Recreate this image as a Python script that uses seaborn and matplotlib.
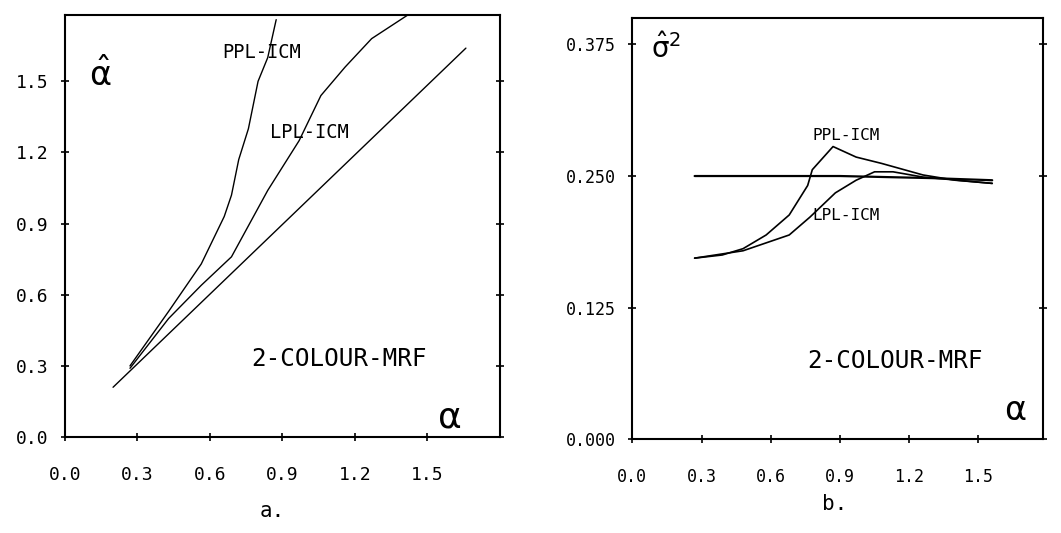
import matplotlib
matplotlib.use("Agg")
import matplotlib.pyplot as plt
import seaborn as sns
import pandas as pd

# panel a: estimated alpha vs true alpha
ident_x = [0.20, 1.66]
ident_y = [0.21, 1.64]
ppl_a_x = [0.27, 0.43, 0.565, 0.66, 0.69, 0.72, 0.76, 0.80, 0.84, 0.875]
ppl_a_y = [0.30, 0.53, 0.73, 0.93, 1.02, 1.17, 1.30, 1.50, 1.60, 1.76]
lpl_a_x = [0.27, 0.43, 0.565, 0.69, 0.84, 0.97, 1.06, 1.16, 1.27, 1.42]
lpl_a_y = [0.29, 0.50, 0.64, 0.76, 1.04, 1.25, 1.44, 1.56, 1.68, 1.78]

# panel b: estimated sigma^2 vs true alpha
true_x = [0.27, 0.90, 1.30, 1.56]
true_y = [0.250, 0.250, 0.248, 0.246]
ppl_b_x = [0.27, 0.39, 0.48, 0.58, 0.68, 0.76, 0.78, 0.87, 0.97, 1.08, 1.26, 1.40, 1.56]
ppl_b_y = [0.172, 0.175, 0.181, 0.194, 0.213, 0.241, 0.256, 0.278, 0.268, 0.262, 0.251, 0.246, 0.243]
lpl_b_x = [0.27, 0.48, 0.68, 0.77, 0.88, 0.97, 1.05, 1.13, 1.26, 1.56]
lpl_b_y = [0.172, 0.179, 0.194, 0.211, 0.234, 0.246, 0.254, 0.254, 0.249, 0.243]

xticks = [0.0, 0.3, 0.6, 0.9, 1.2, 1.5]
yticks_a = [0.0, 0.3, 0.6, 0.9, 1.2, 1.5]
yticks_b = [0.000, 0.125, 0.250, 0.375]

sns.set_style("white")
plt.rcParams['font.family'] = ['DejaVu Sans Mono', 'DejaVu Sans']
plt.rcParams['mathtext.fontset'] = 'dejavusans'
plt.rcParams['mathtext.default'] = 'rm'
plt.rcParams['text.color'] = 'black'
plt.rcParams['xtick.color'] = 'black'
plt.rcParams['ytick.color'] = 'black'

fig = plt.figure(figsize=(10.61, 5.33), dpi=100)
ax1 = fig.add_axes([0.061, 0.180, 0.410, 0.792])
ax2 = fig.add_axes([0.596, 0.176, 0.387, 0.790])


def draw(ax, x, y, lw):
    df = pd.DataFrame({'x': x, 'y': y})
    sns.lineplot(data=df, x='x', y='y', ax=ax, color='black', linewidth=lw,
                 sort=False, estimator=None)


draw(ax1, ident_x, ident_y, 1.0)
draw(ax1, ppl_a_x, ppl_a_y, 1.0)
draw(ax1, lpl_a_x, lpl_a_y, 1.0)

draw(ax2, true_x, true_y, 1.6)
draw(ax2, ppl_b_x, ppl_b_y, 1.2)
draw(ax2, lpl_b_x, lpl_b_y, 1.2)

# axes a
ax1.set_xlim(0, 1.8)
ax1.set_ylim(0, 1.78)
ax1.set_xticks(xticks)
ax1.set_xticklabels([f"{v:.1f}" for v in xticks], fontsize=13)
ax1.set_yticks(yticks_a)
ax1.set_yticklabels([f"{v:.1f}" for v in yticks_a], fontsize=13)
ax1.text(0.65, 1.60, "PPL-ICM", fontsize=13.5)
ax1.text(0.85, 1.26, "LPL-ICM", fontsize=13.5)
ax1.text(0.77, 0.30, "2-COLOUR-MRF", fontsize=17.5)
ax1.text(1.54, 0.04, r"$\alpha$", fontsize=26)
ax1.text(0.10, 1.48, r"$\hat{\alpha}$", fontsize=24)

# axes b
ax2.set_xlim(0, 1.78)
ax2.set_ylim(0, 0.40)
ax2.set_xticks(xticks)
ax2.set_xticklabels([f"{v:.1f}" for v in xticks], fontsize=12)
ax2.set_yticks(yticks_b)
ax2.set_yticklabels([f"{v:.3f}" for v in yticks_b], fontsize=12)
ax2.text(0.78, 0.284, "PPL-ICM", fontsize=11.5)
ax2.text(0.78, 0.208, "LPL-ICM", fontsize=11.5)
ax2.text(0.76, 0.068, "2-COLOUR-MRF", fontsize=17.5)
ax2.text(1.61, 0.018, r"$\alpha$", fontsize=24)
ax2.text(0.08, 0.362, r"$\hat{\sigma}^2$", fontsize=20)

for ax in (ax1, ax2):
    ax.set_xlabel("")
    ax.set_ylabel("")
    for s in ax.spines.values():
        s.set_visible(True)
        s.set_color('black')
        s.set_linewidth(1.5)
    ax.tick_params(axis='x', direction='inout', length=6, width=1.2,
                   bottom=True, top=False, pad=18)
    ax.tick_params(axis='y', direction='inout', length=6, width=1.2,
                   left=True, right=True, pad=9)

fig.text(0.257, 0.030, "a.", fontsize=15, ha='center')
fig.text(0.787, 0.043, "b.", fontsize=15, ha='center')

fig.savefig("out.png", dpi=100)
